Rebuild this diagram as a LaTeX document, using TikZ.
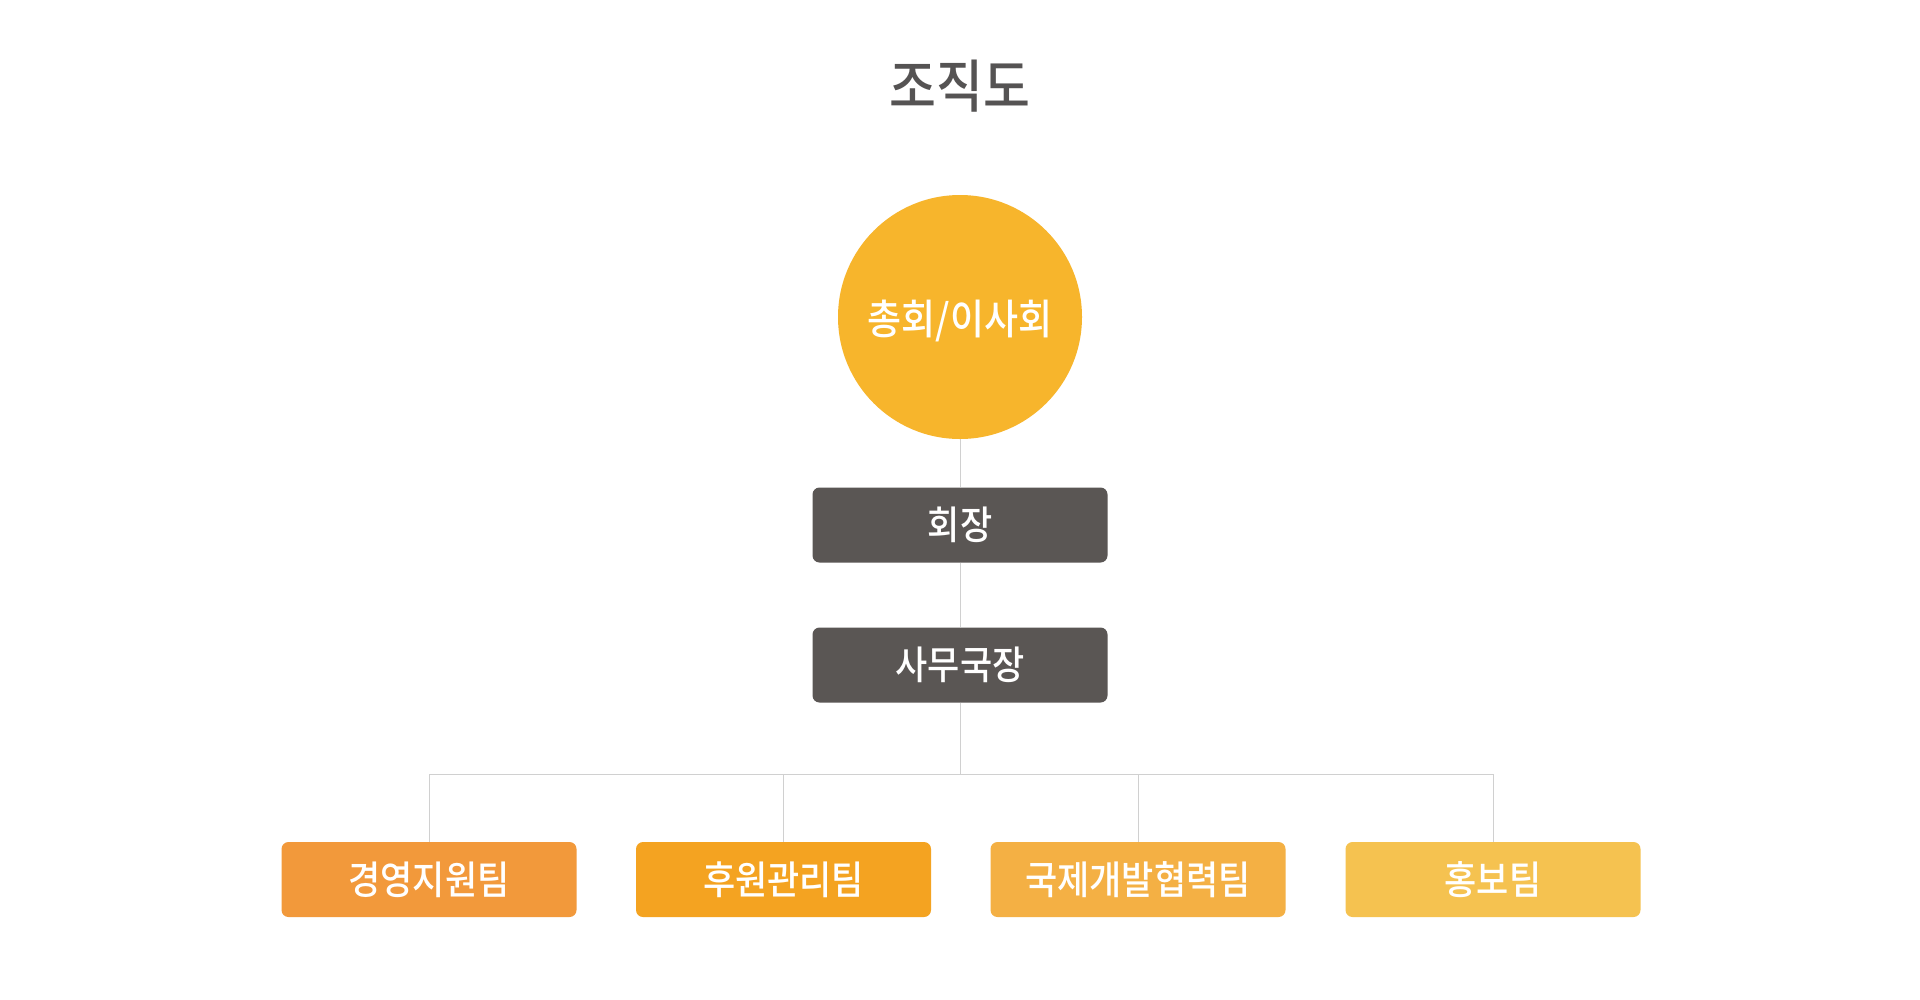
\documentclass[tikz,border=0pt]{standalone}
\usepackage{fontspec}
\usepackage{graphicx}
\newfontfamily\kr{Noto Sans CJK KR}
\newfontfamily\krm{Noto Sans CJK KR}[UprightFont={* Medium}]
\newcommand{\talltext}[1]{\scalebox{1}[1.12]{#1}}
\definecolor{titlegray}{HTML}{555353}
\definecolor{circfill}{HTML}{F7B52C}
\definecolor{darkbox}{HTML}{5A5654}
\definecolor{teamA}{HTML}{F2993B}
\definecolor{teamB}{HTML}{F4A321}
\definecolor{teamC}{HTML}{F4B044}
\definecolor{teamD}{HTML}{F5C250}
\definecolor{linegray}{HTML}{D0D0D0}
\tikzset{
  conn/.style={draw=linegray, line width=1pt},
  rbox/.style={rectangle, rounded corners=7pt, minimum width=295pt, minimum height=75pt,
    inner sep=0pt, text=white, font=\krm\fontsize{35}{35}\selectfont},
  headbox/.style={rbox, fill=darkbox},
  teambox/.style={rbox},
}
\begin{document}
\begin{tikzpicture}[x=1pt,y=-1pt]
\useasboundingbox[fill=white] (0,0) rectangle (1920,999);
\node[text=titlegray, font=\krm\fontsize{51}{51}\selectfont] (title) at (960,86) {\talltext{조직도}};
\node[circle, fill=circfill, minimum size=244pt, inner sep=0pt, text=white,
  font=\krm\fontsize{37}{37}\selectfont] (gen) at (960,317) {};
\node[text=white, font=\krm\fontsize{37}{37}\selectfont] (gentext) at (960,321) {\talltext{총회/이사회}};
\node[headbox] (pres) at (960,525) {\talltext{회장}};
\node[headbox] (sec) at (960,665) {\talltext{사무국장}};
\node[teambox, fill=teamA] (t1) at (429,879.5) {\talltext{경영지원팀}};
\node[teambox, fill=teamB] (t2) at (783.5,879.5) {\talltext{후원관리팀}};
\node[teambox, fill=teamC] (t3) at (1138,879.5) {\talltext{국제개발협력팀}};
\node[teambox, fill=teamD] (t4) at (1493,879.5) {\talltext{홍보팀}};
\coordinate (hub) at (960,774);
\draw[conn] (gen.south) -- (pres.north);
\draw[conn] (pres.south) -- (sec.north);
\draw[conn] (sec.south) -- (hub);
\draw[conn] (t1.north) |- (hub);
\draw[conn] (t2.north) |- (hub);
\draw[conn] (t3.north) |- (hub);
\draw[conn] (t4.north) |- (hub);
\end{tikzpicture}
\end{document}
